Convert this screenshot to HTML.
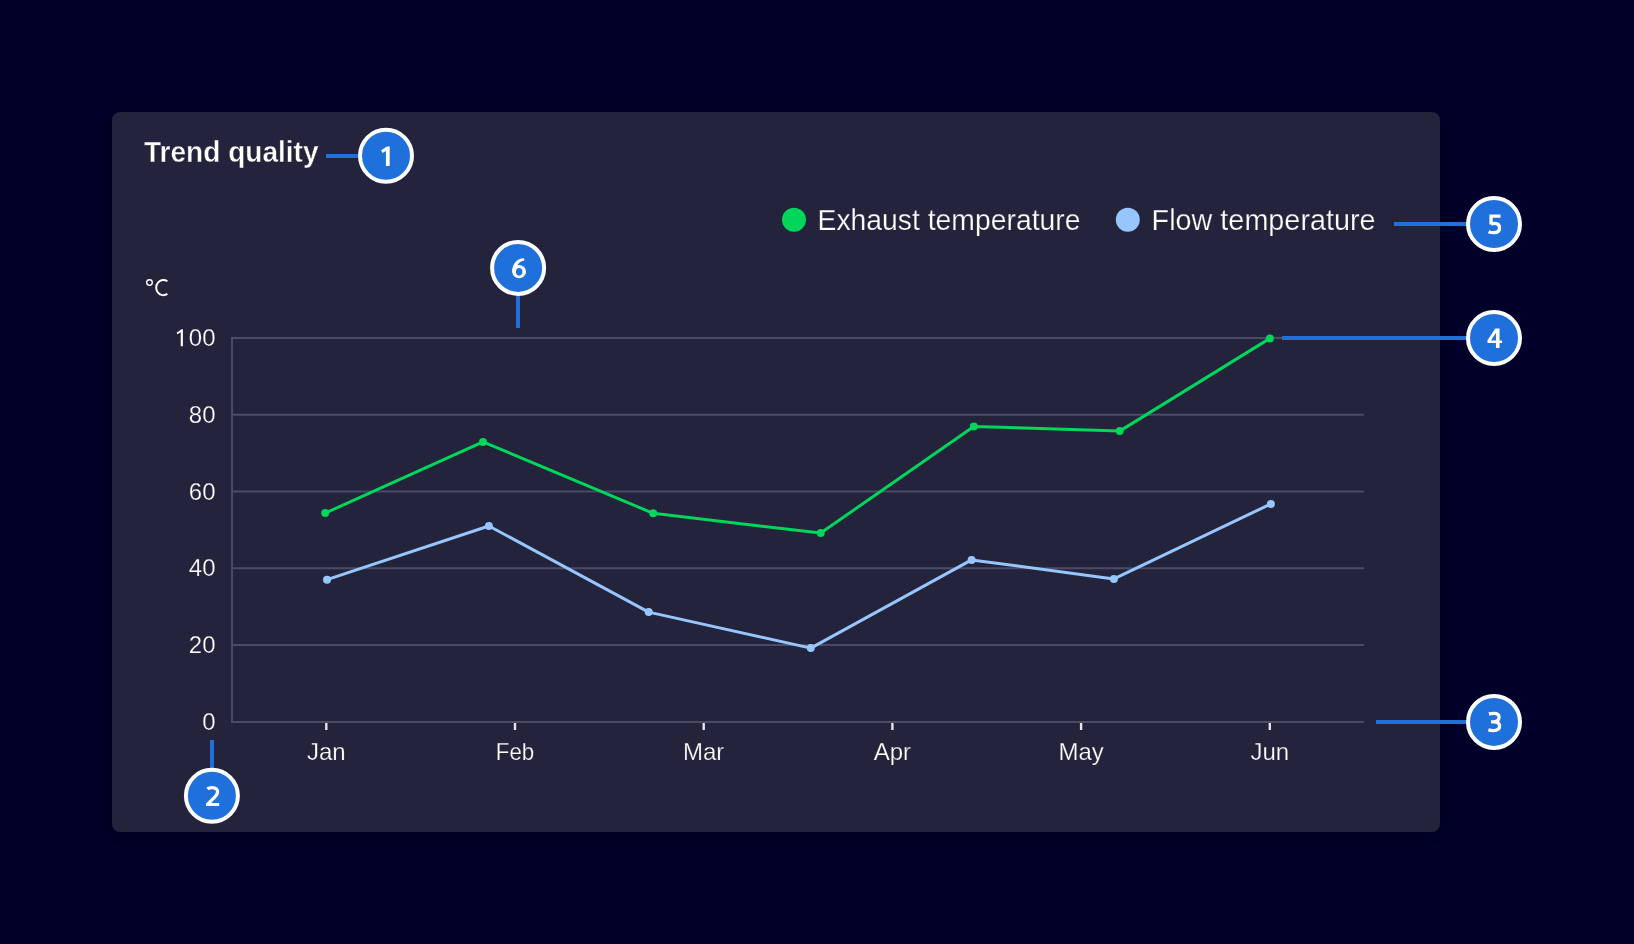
<!DOCTYPE html>
<html><head><meta charset="utf-8"><title>Trend quality</title>
<style>
html,body{margin:0;padding:0;background:#000028;width:1634px;height:944px;overflow:hidden;position:relative}
.card{position:absolute;left:112px;top:112px;width:1328px;height:720px;border-radius:8px;background:#23233c;box-shadow:0 3px 10px rgba(0,0,20,0.35)}
svg{position:absolute;left:0;top:0}
svg{display:block;font-family:"Liberation Sans",sans-serif;transform:translateZ(0)}
.thin{stroke:#23233c;stroke-width:0.25px}
</style></head><body>
<div class="card"></div>
<svg width="1634" height="944" viewBox="0 0 1634 944">
<text x="144" y="161.7" font-size="29" font-weight="bold" fill="#ffffff" style="stroke:#23233c;stroke-width:0.4px" textLength="174.5" lengthAdjust="spacingAndGlyphs">Trend quality</text>
<circle cx="794" cy="219.8" r="12" fill="#00d75a"/>
<text x="817.5" y="230.3" font-size="29" fill="#ffffff" class="thin" textLength="263" lengthAdjust="spacingAndGlyphs">Exhaust temperature</text>
<circle cx="1127.8" cy="219.8" r="12" fill="#97c6ff"/>
<text x="1151.6" y="230.3" font-size="29" fill="#ffffff" class="thin" textLength="224" lengthAdjust="spacingAndGlyphs">Flow temperature</text>
<circle cx="149.5" cy="282.5" r="2.8" fill="none" stroke="#ffffff" stroke-width="1.35"/><path d="M167.4 281.3 A7.2 7.6 0 1 0 167.4 293.9" fill="none" stroke="#ffffff" stroke-width="1.95"/>

<text x="215.5" y="346.10" font-size="24" fill="#ffffff" text-anchor="end" class="thin">00</text>
<path d="M 182.89 329.26 L 182.89 346.36 L 180.73 346.36 L 180.73 332.22 L 177.45 334.24 L 176.56 332.76 L 181.54 329.26 Z" fill="#ffffff"/>
<text x="215.5" y="422.85" font-size="24" fill="#ffffff" text-anchor="end" class="thin">80</text>
<text x="215.5" y="499.60" font-size="24" fill="#ffffff" text-anchor="end" class="thin">60</text>
<text x="215.5" y="576.35" font-size="24" fill="#ffffff" text-anchor="end" class="thin">40</text>
<text x="215.5" y="653.10" font-size="24" fill="#ffffff" text-anchor="end" class="thin">20</text>
<text x="215.5" y="729.85" font-size="24" fill="#ffffff" text-anchor="end" class="thin">0</text>
<rect x="232" y="413.75" width="1132" height="2" fill="#4c4b66"/>
<rect x="232" y="490.50" width="1132" height="2" fill="#4c4b66"/>
<rect x="232" y="567.25" width="1132" height="2" fill="#4c4b66"/>
<rect x="232" y="644.00" width="1132" height="2" fill="#4c4b66"/>
<rect x="231" y="337" width="1133" height="2" fill="#4c4b66"/>
<rect x="231" y="721" width="1133" height="2" fill="#4c4b66"/>
<rect x="231" y="337" width="2" height="386" fill="#4c4b66"/>
<rect x="325.1" y="723" width="2.4" height="7" fill="#e4e4ea"/>
<text x="326.3" y="760" font-size="24" fill="#ffffff" text-anchor="middle" class="thin">Jan</text>
<rect x="513.8" y="723" width="2.4" height="7" fill="#e4e4ea"/>
<text x="515.0" y="760" font-size="24" fill="#ffffff" text-anchor="middle" class="thin" textLength="38.5" lengthAdjust="spacingAndGlyphs">Feb</text>
<rect x="702.5" y="723" width="2.4" height="7" fill="#e4e4ea"/>
<text x="703.7" y="760" font-size="24" fill="#ffffff" text-anchor="middle" class="thin">Mar</text>
<rect x="891.2" y="723" width="2.4" height="7" fill="#e4e4ea"/>
<text x="892.4" y="760" font-size="24" fill="#ffffff" text-anchor="middle" class="thin">Apr</text>
<rect x="1079.9" y="723" width="2.4" height="7" fill="#e4e4ea"/>
<text x="1081.1" y="760" font-size="24" fill="#ffffff" text-anchor="middle" class="thin">May</text>
<rect x="1268.6" y="723" width="2.4" height="7" fill="#e4e4ea"/>
<text x="1269.8" y="760" font-size="24" fill="#ffffff" text-anchor="middle" class="thin">Jun</text>
<polyline points="325.2,513.1 483.0,441.9 653.2,513.3 820.7,533.1 973.8,426.4 1119.7,431.1 1269.9,338.4" fill="none" stroke="#00d75a" stroke-width="3" stroke-linejoin="round"/>
<circle cx="325.2" cy="513.1" r="4" fill="#00d75a"/>
<circle cx="483.0" cy="441.9" r="4" fill="#00d75a"/>
<circle cx="653.2" cy="513.3" r="4" fill="#00d75a"/>
<circle cx="820.7" cy="533.1" r="4" fill="#00d75a"/>
<circle cx="973.8" cy="426.4" r="4" fill="#00d75a"/>
<circle cx="1119.7" cy="431.1" r="4" fill="#00d75a"/>
<circle cx="1269.9" cy="338.4" r="4" fill="#00d75a"/>
<polyline points="327.0,579.7 488.9,526.0 648.7,612.1 810.8,648.1 971.6,559.9 1113.9,578.9 1270.9,503.9" fill="none" stroke="#97c6ff" stroke-width="3" stroke-linejoin="round"/>
<circle cx="327.0" cy="579.7" r="4" fill="#97c6ff"/>
<circle cx="488.9" cy="526.0" r="4" fill="#97c6ff"/>
<circle cx="648.7" cy="612.1" r="4" fill="#97c6ff"/>
<circle cx="810.8" cy="648.1" r="4" fill="#97c6ff"/>
<circle cx="971.6" cy="559.9" r="4" fill="#97c6ff"/>
<circle cx="1113.9" cy="578.9" r="4" fill="#97c6ff"/>
<circle cx="1270.9" cy="503.9" r="4" fill="#97c6ff"/>
<rect x="326" y="154" width="32" height="4" fill="#2070dc"/>
<circle cx="386" cy="155.75" r="26" fill="#2070dc" stroke="#ffffff" stroke-width="4"/><g transform="translate(370,140) scale(0.033898)"><path d="M580 195 L580 765 L470 765 L470 322 L368 382 L330 302 L500 195 Z" fill="#ffffff" fill-rule="evenodd"/></g>
<rect x="210" y="740" width="4" height="28" fill="#2070dc"/>
<circle cx="211.9" cy="795.8" r="26" fill="#2070dc" stroke="#ffffff" stroke-width="4"/><g transform="translate(196,780) scale(0.033898)"><path d="M335 262 C378 230 428 222 480 222 C580 222 638 275 638 345 C638 405 605 450 560 495 L345 712" fill="none" stroke="#ffffff" stroke-width="96"/><path d="M295 678 L685 678 L685 766 L295 766 Z" fill="#ffffff"/></g>
<rect x="1376" y="720" width="90" height="4" fill="#2070dc"/>
<circle cx="1494" cy="721.9" r="26" fill="#2070dc" stroke="#ffffff" stroke-width="4"/><g transform="translate(1478,705) scale(0.033898)"><path d="M322 262 C365 252 415 250 470 250 C570 250 622 300 622 365 C622 440 560 495 470 495 L385 495 M470 495 C580 495 637 545 637 620 C637 705 560 753 450 753 C395 753 345 745 305 728" fill="none" stroke="#ffffff" stroke-width="96" stroke-linejoin="miter"/></g>
<rect x="1282" y="336" width="184" height="4" fill="#2070dc"/>
<circle cx="1494" cy="338" r="26" fill="#2070dc" stroke="#ffffff" stroke-width="4"/><g transform="translate(1478,322) scale(0.033898)"><path d="M510 195 L635 195 L635 545 L710 545 L710 620 L635 620 L635 765 L530 765 L530 620 L280 620 L280 540 Z M530 318 L385 545 L530 545 Z" fill="#ffffff" fill-rule="evenodd"/></g>
<rect x="1394" y="222" width="72" height="4" fill="#2070dc"/>
<circle cx="1494" cy="224" r="26" fill="#2070dc" stroke="#ffffff" stroke-width="4"/><g transform="translate(1478,208) scale(0.033898)"><path d="M665 237 L385 237 L385 490 M385 478 C420 462 450 455 490 455 C590 455 635 515 635 590 C635 680 570 728 470 728 C400 728 350 715 312 698" fill="none" stroke="#ffffff" stroke-width="96" stroke-linejoin="miter"/></g>
<rect x="516" y="296" width="4" height="32" fill="#2070dc"/>
<circle cx="518.1" cy="267.9" r="26" fill="#2070dc" stroke="#ffffff" stroke-width="4"/><g transform="translate(502,252) scale(0.033898)"><path d="M655 185 C430 185 300 360 300 580 L410 580 C410 420 500 255 655 255 Z" fill="#ffffff"/><path d="M300 580 A205 195 0 1 0 710 580 A205 195 0 1 0 300 580 Z M410 585 A95 113 0 1 0 600 585 A95 113 0 1 0 410 585 Z" fill="#ffffff" fill-rule="evenodd"/></g>
</svg></body></html>
